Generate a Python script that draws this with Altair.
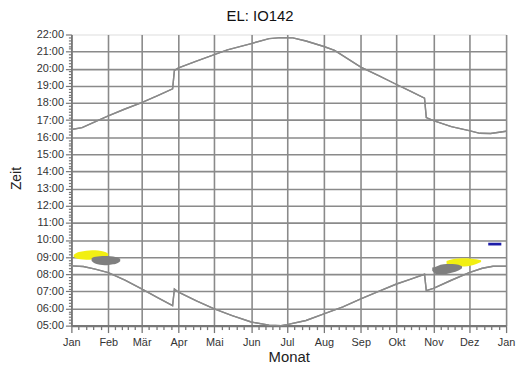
import json
import altair as alt
import pandas as pd

# ---- data ----
month_starts = [0, 31, 59, 90, 120, 151, 181, 212, 243, 273, 304, 334, 365]
month_labels = ["Jan", "Feb", "Mär", "Apr", "Mai", "Jun", "Jul", "Aug", "Sep", "Okt", "Nov", "Dez", "Jan"]
hour_labels = ["05:00", "06:00", "07:00", "08:00", "09:00", "10:00", "11:00", "12:00", "13:00",
               "14:00", "15:00", "16:00", "17:00", "18:00", "19:00", "20:00", "21:00", "22:00"]

sunset_day = [0, 9, 23, 31, 45, 59, 72, 85, 86.5, 90, 105, 120, 131, 151, 166, 176, 186, 197, 212,
              221, 243, 258, 273, 285, 296.5, 298, 304, 319, 334, 343, 352, 365]
sunset_h = [16.45, 16.56, 17.0, 17.25, 17.65, 18.02, 18.42, 18.83, 19.9, 20.05, 20.45, 20.82, 21.1,
            21.47, 21.76, 21.82, 21.8, 21.62, 21.3, 21.07, 20.1, 19.6, 19.08, 18.68, 18.28, 17.15,
            16.97, 16.62, 16.39, 16.23, 16.22, 16.35]

sunrise_day = [0, 10, 20, 31, 45, 59, 72, 85, 86.5, 90, 105, 120, 135, 151, 166, 176, 181, 197, 212,
               228, 243, 258, 273, 285, 296.5, 298, 304, 319, 334, 345, 354, 365]
sunrise_h = [8.49, 8.45, 8.3, 8.1, 7.65, 7.14, 6.65, 6.17, 7.14, 6.95, 6.45, 5.98, 5.58, 5.21, 5.03,
             5.0, 5.06, 5.3, 5.69, 6.1, 6.56, 7.0, 7.43, 7.72, 8.0, 7.04, 7.18, 7.65, 8.1, 8.35,
             8.47, 8.47]

yellow1_day = [2, 5, 10, 15, 20, 25, 29, 31]
yellow1_lo = [9.0, 8.9, 8.86, 8.85, 8.88, 8.93, 9.02, 9.1]
yellow1_hi = [9.14, 9.27, 9.34, 9.39, 9.4, 9.36, 9.28, 9.2]

gray1_day = [17, 19, 22, 26, 30, 35, 39, 41]
gray1_lo = [8.78, 8.66, 8.58, 8.54, 8.53, 8.58, 8.66, 8.76]
gray1_hi = [8.94, 9.0, 9.04, 9.07, 9.07, 9.03, 8.96, 8.9]

yellow2_day = [315, 320, 325, 330, 335, 340, 344]
yellow2_lo = [8.62, 8.5, 8.45, 8.45, 8.5, 8.6, 8.72]
yellow2_hi = [8.77, 8.87, 8.92, 8.94, 8.92, 8.87, 8.82]

gray2_day = [303, 306, 310, 315, 320, 325, 328]
gray2_lo = [8.2, 8.02, 8.0, 8.02, 8.1, 8.22, 8.35]
gray2_hi = [8.4, 8.44, 8.56, 8.6, 8.6, 8.56, 8.47]

blue_day = [350, 361]
blue_lo = [9.68, 9.68]
blue_hi = [9.84, 9.84]

# ---- tables ----
curves = pd.concat([
    pd.DataFrame({"day": sunset_day, "hour": sunset_h, "series": "sunset"}),
    pd.DataFrame({"day": sunrise_day, "hour": sunrise_h, "series": "sunrise"}),
])

def band(days, lo, hi, name):
    return pd.DataFrame({"day": days, "lo": lo, "hi": hi, "blob": name})

yellow = pd.concat([band(yellow1_day, yellow1_lo, yellow1_hi, "y1"),
                    band(yellow2_day, yellow2_lo, yellow2_hi, "y2")])
gray = pd.concat([band(gray1_day, gray1_lo, gray1_hi, "g1"),
                  band(gray2_day, gray2_lo, gray2_hi, "g2")])
blue = band(blue_day, blue_lo, blue_hi, "b")

# ---- axes ----
x_ticks = []
for i in range(12):
    a, b = month_starts[i], month_starts[i + 1]
    for k in range(5):
        x_ticks.append(a + (b - a) * k / 5)
x_ticks.append(365)

ms = json.dumps(month_starts)
ml = json.dumps(month_labels, ensure_ascii=False)
is_major_x = f"indexof({ms}, datum.value) >= 0"

y_ticks = [5 + k / 6 for k in range(0, 103)]
hl = json.dumps(hour_labels)
is_major_y = "abs(datum.value - round(datum.value)) < 0.001"

FONT = "Liberation Sans"
GRID = "#8a8a8a"

x_axis = alt.Axis(
    values=x_ticks,
    tickCount=500,
    labelExpr=f"{is_major_x} ? {ml}[indexof({ms}, datum.value)] : ''",
    grid=True,
    gridColor=GRID,
    gridWidth=1.6,
    gridOpacity={"condition": {"test": is_major_x, "value": 1}, "value": 0},
    tickSize={"condition": {"test": is_major_x, "value": 7}, "value": 4},
    tickColor="#777777",
    tickWidth=1.3,
    domainColor="#777777",
    domainWidth=2.5,
    labelFont=FONT, labelFontSize=11, labelColor="#333333", labelPadding=4,
    labelOverlap=False, labelFlush=False,
    title="Monat", titleFont=FONT, titleFontSize=15, titleFontWeight="normal",
    titleColor="#222222", titlePadding=2,
)

y_axis = alt.Axis(
    values=y_ticks,
    tickCount=500,
    labelExpr=f"{is_major_y} ? {hl}[round(datum.value) - 5] : ''",
    grid=True,
    gridColor=GRID,
    gridWidth=1.6,
    gridOpacity={"condition": {"test": f"{is_major_y} && datum.value > 5.5 && datum.value < 21.5",
                               "value": 1}, "value": 0},
    tickSize={"condition": {"test": is_major_y, "value": 6}, "value": 3},
    tickColor="#777777",
    tickWidth=1.2,
    domainColor="#777777",
    domainWidth=1.6,
    labelFont=FONT, labelFontSize=11, labelColor="#333333", labelPadding=2,
    labelOverlap=False, labelFlush=False,
    title="Zeit", titleFont=FONT, titleFontSize=14, titleFontWeight="normal",
    titleColor="#222222", titleX=-55, titleY=145, titleBaseline="middle", titleAngle=270,
)

xs = alt.Scale(domain=[0, 365], nice=False, zero=False)
ys = alt.Scale(domain=[5, 22], nice=False, zero=False)

lines = alt.Chart(curves).mark_line(color="#8a8a8a", strokeWidth=1.4).encode(
    x=alt.X("day:Q", scale=xs, axis=x_axis),
    y=alt.Y("hour:Q", scale=ys, axis=y_axis),
    detail="series:N",
    order="day:Q",
)

def area_layer(df, color):
    return alt.Chart(df).mark_area(color=color, opacity=1, interpolate="monotone").encode(
        x=alt.X("day:Q", scale=xs),
        y=alt.Y("lo:Q", scale=ys),
        y2="hi:Q",
        detail="blob:N",
    )

chart = alt.layer(
    lines,
    area_layer(yellow, "#f2ef12"),
    area_layer(gray, "#7f7f7f"),
    area_layer(blue, "#1d1ca8"),
    lines,
).properties(
    width=439,
    height=294,
    padding={"left": 64, "top": 25, "right": 10, "bottom": 37},
    autosize=alt.AutoSizeParams(type="none"),
    title=alt.TitleParams("EL: IO142", font=FONT, fontSize=15, fontWeight="normal",
                          color="#111111", anchor="middle", dx=-29, offset=5),
).configure_view(stroke="transparent").configure(background="white")

chart.save("out.html", embed_options={"renderer": "svg", "actions": False})
